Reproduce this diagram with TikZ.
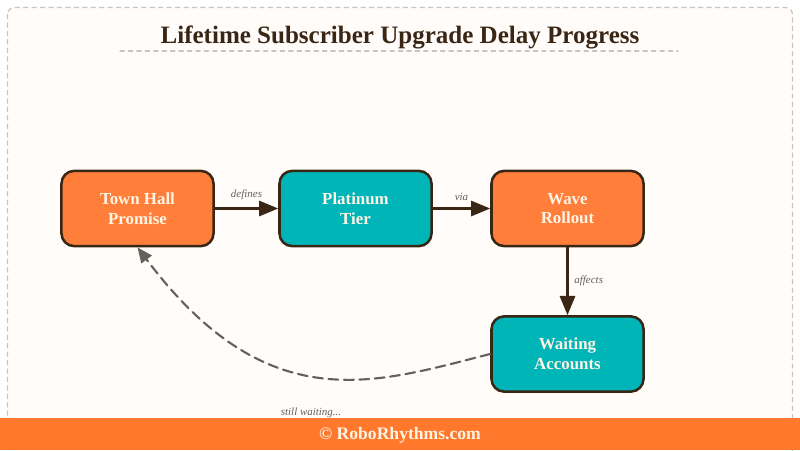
\documentclass[tikz,border=0pt]{standalone}
\usepackage{fontspec}
\setmainfont{Liberation Serif}
\usetikzlibrary{arrows.meta}
\definecolor{pageBg}{HTML}{FFFCFA}
\definecolor{frameGray}{HTML}{C8C4C0}
\definecolor{inkBrown}{HTML}{3A2614}
\definecolor{flowOrange}{HTML}{FF7F3A}
\definecolor{flowTeal}{HTML}{00B5B8}
\definecolor{footOrange}{HTML}{FF782C}
\definecolor{labelGray}{HTML}{66605A}
\definecolor{paleText}{HTML}{FFF4E4}
\begin{document}
\begin{tikzpicture}[x=0.025cm, y=-0.025cm, line join=round, line cap=round,
  box/.style={draw=inkBrown, line width=1.8pt, rounded corners=9pt, minimum width=3.8cm,
    minimum height=1.88cm, align=center, text=paleText, font=\fontsize{12}{14}\selectfont\bfseries},
  hot/.style={box, fill=flowOrange},
  cool/.style={box, fill=flowTeal},
  flow/.style={draw=inkBrown, line width=1.8pt, -{Triangle[length=4.8mm, width=3.8mm]}},
  lbl/.style={font=\fontsize{7.8}{9}\selectfont\itshape, text=labelGray, inner sep=1pt}]
	\useasboundingbox (0,0) rectangle (800,450);
	% page, frame, title
	\fill[white] (0,0) rectangle (800,450);
	\draw[frameGray, dashed, fill=pageBg, line width=0.9pt, rounded corners=5pt] (7.5,7.5) rectangle (792.5,460);
	\node[font=\fontsize{17.8}{21}\selectfont\bfseries, text=inkBrown] (title) at (400,37.5) {Lifetime Subscriber Upgrade Delay Progress};
	\draw[frameGray, dashed, line width=0.9pt] (120,51)--(678,51);
	% steps
	\node[hot] (town) at (137.5,208.5) {Town Hall\\Promise};
	\node[cool] (tier) at (355.5,208.5) {Platinum\\Tier};
	\node[hot] (wave) at (567.5,208.5) {Wave\\Rollout};
	\node[cool] (wait) at (567.5,354) {Waiting\\Accounts};
	\draw[flow] (town)--(tier) node[lbl, midway, above=4pt]{defines};
	\draw[flow] (tier)--(wave) node[lbl, midway, above=4pt]{via};
	\draw[flow] (wave)--(wait) node[lbl, midway, right=3pt]{affects};
	\draw[labelGray, line width=1.5pt, dash pattern=on 7pt off 4pt, -{Triangle[length=3.8mm, width=3.2mm]}]
		(wait.west) .. controls (375,383) and (268,421) .. (town.south);
	\node[lbl] (stillwait) at (311,413) {still waiting...};
	% footer
	\fill[footOrange] (0,418) rectangle (800,450);
	\node[font=\fontsize{12.5}{15}\selectfont\bfseries, text=paleText] (credit) at (400,435.5) {© RoboRhythms.com};
\end{tikzpicture}
\end{document}
